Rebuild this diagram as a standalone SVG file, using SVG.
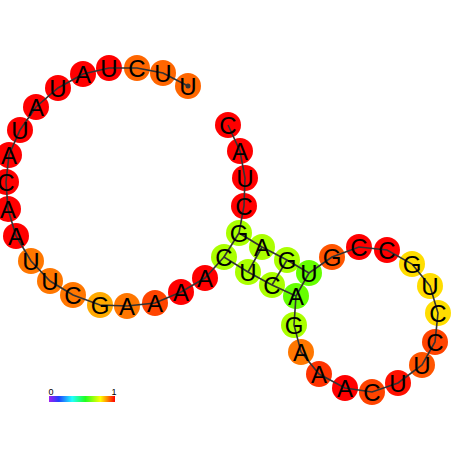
<svg xmlns="http://www.w3.org/2000/svg" width="452" height="452" viewBox="0 0 452 452">
<style>
.n circle{stroke:none}
.n text{font-family:"Liberation Sans",Arial,sans-serif;font-size:24px;text-anchor:middle;fill:#000}
.bb{fill:none;stroke:#333;stroke-width:1.6}
.bp{stroke:#333;stroke-width:1.6}
.lab{font-family:"Liberation Sans",Arial,sans-serif;font-size:9px;fill:#000;text-anchor:middle}
</style>
<defs>
<linearGradient id="cb" x1="0" x2="1" y1="0" y2="0">
<stop offset="0" stop-color="#a020f0"/>
<stop offset="0.15" stop-color="#2040ff"/>
<stop offset="0.35" stop-color="#20ffff"/>
<stop offset="0.55" stop-color="#20ff20"/>
<stop offset="0.78" stop-color="#ffff00"/>
<stop offset="1" stop-color="#ff0000"/>
</linearGradient>
</defs>
<rect width="452" height="452" fill="#fff"/>
<g id="nodes-circles">
<circle cx="228" cy="125" r="13" fill="#ff0000"/>
<circle cx="240" cy="151" r="13" fill="#ff0000"/>
<circle cx="245" cy="178" r="13" fill="#ff0000"/>
<circle cx="244" cy="206" r="13" fill="#ff0000"/>
<circle cx="239" cy="233" r="13" fill="#aaff00"/>
<circle cx="262" cy="247" r="13" fill="#aaff00"/>
<circle cx="287" cy="260" r="13" fill="#aaff00"/>
<circle cx="309" cy="273" r="13" fill="#66ff00"/>
<circle cx="332" cy="257" r="13" fill="#ff5500"/>
<circle cx="359" cy="247" r="13" fill="#ff0000"/>
<circle cx="387" cy="250" r="13" fill="#ff0000"/>
<circle cx="412" cy="264" r="13" fill="#ffdd00"/>
<circle cx="430" cy="286" r="13" fill="#ffdd00"/>
<circle cx="438" cy="313" r="13" fill="#ffdd00"/>
<circle cx="435" cy="342" r="13" fill="#ff4400"/>
<circle cx="422" cy="365" r="13" fill="#ff5500"/>
<circle cx="398" cy="383" r="13" fill="#ff1100"/>
<circle cx="372" cy="392" r="13" fill="#ff4400"/>
<circle cx="345" cy="388" r="13" fill="#ff0000"/>
<circle cx="319" cy="374" r="13" fill="#ff3300"/>
<circle cx="301" cy="352" r="13" fill="#ff7700"/>
<circle cx="294" cy="325" r="13" fill="#aaff00"/>
<circle cx="296" cy="296" r="13" fill="#66ff00"/>
<circle cx="272" cy="285" r="13" fill="#aaff00"/>
<circle cx="248" cy="272" r="13" fill="#aaff00"/>
<circle cx="224" cy="257" r="13" fill="#aaff00"/>
<circle cx="205" cy="278" r="13" fill="#ff0000"/>
<circle cx="181" cy="292" r="13" fill="#ff0000"/>
<circle cx="155" cy="303" r="13" fill="#ff4400"/>
<circle cx="127" cy="306" r="13" fill="#ff7700"/>
<circle cx="100" cy="305" r="13" fill="#ffaa00"/>
<circle cx="73" cy="295" r="13" fill="#ff7700"/>
<circle cx="50" cy="281" r="13" fill="#ff7700"/>
<circle cx="31" cy="261" r="13" fill="#ff7700"/>
<circle cx="16" cy="236" r="13" fill="#ff0000"/>
<circle cx="8" cy="209" r="13" fill="#ff0000"/>
<circle cx="6" cy="182" r="13" fill="#ff0000"/>
<circle cx="9" cy="155" r="13" fill="#ff0000"/>
<circle cx="20" cy="130" r="13" fill="#ff0000"/>
<circle cx="36" cy="107" r="13" fill="#ff0000"/>
<circle cx="58" cy="88" r="13" fill="#ff0000"/>
<circle cx="83" cy="74" r="13" fill="#ff0000"/>
<circle cx="109" cy="68" r="13" fill="#ff0000"/>
<circle cx="137" cy="68" r="13" fill="#ff6600"/>
<circle cx="163" cy="73" r="13" fill="#ff6600"/>
<circle cx="188" cy="86" r="13" fill="#ff6600"/>
</g>
<g id="connectors">
<polyline class="bb" points="228,125 240,151 245,178 244,206 239,233 262,247 287,260 309,273 332,257 359,247 387,250 412,264 430,286 438,313 435,342 422,365 398,383 372,392 345,388 319,374 301,352 294,325 296,296 272,285 248,272 224,257 205,278 181,292 155,303 127,306 100,305 73,295 50,281 31,261 16,236 8,209 6,182 9,155 20,130 36,107 58,88 83,74 109,68 137,68 163,73 188,86"/>
<line class="bp" x1="239" y1="233" x2="224" y2="257"/>
<line class="bp" x1="262" y1="247" x2="248" y2="272"/>
<line class="bp" x1="287" y1="260" x2="272" y2="285"/>
<line class="bp" x1="309" y1="273" x2="296" y2="296"/>
<circle cx="188" cy="86" r="2.5" fill="#333"/>
</g>
<g id="nodes-letters" class="n">
<text x="228" y="134">C</text>
<text x="240" y="160">A</text>
<text x="245" y="187">U</text>
<text x="244" y="215">C</text>
<text x="239" y="242">G</text>
<text x="262" y="256">A</text>
<text x="287" y="269">G</text>
<text x="309" y="282">U</text>
<text x="332" y="266">G</text>
<text x="359" y="256">C</text>
<text x="387" y="259">C</text>
<text x="412" y="273">G</text>
<text x="430" y="295">U</text>
<text x="438" y="322">C</text>
<text x="435" y="351">C</text>
<text x="422" y="374">U</text>
<text x="398" y="392">U</text>
<text x="372" y="401">C</text>
<text x="345" y="397">A</text>
<text x="319" y="383">A</text>
<text x="301" y="361">A</text>
<text x="294" y="334">G</text>
<text x="296" y="305">A</text>
<text x="272" y="294">C</text>
<text x="248" y="281">U</text>
<text x="224" y="266">C</text>
<text x="205" y="287">A</text>
<text x="181" y="301">A</text>
<text x="155" y="312">A</text>
<text x="127" y="315">A</text>
<text x="100" y="314">G</text>
<text x="73" y="304">C</text>
<text x="50" y="290">U</text>
<text x="31" y="270">U</text>
<text x="16" y="245">A</text>
<text x="8" y="218">A</text>
<text x="6" y="191">C</text>
<text x="9" y="164">A</text>
<text x="20" y="139">U</text>
<text x="36" y="116">A</text>
<text x="58" y="97">U</text>
<text x="83" y="83">A</text>
<text x="109" y="77">U</text>
<text x="137" y="77">C</text>
<text x="163" y="82">U</text>
<text x="188" y="95">U</text>
</g>
<g id="legend">
<rect x="49" y="396" width="66" height="6" fill="url(#cb)"/>
<text class="lab" x="51" y="395">0</text>
<text class="lab" x="114" y="395">1</text>
</g>
</svg>
